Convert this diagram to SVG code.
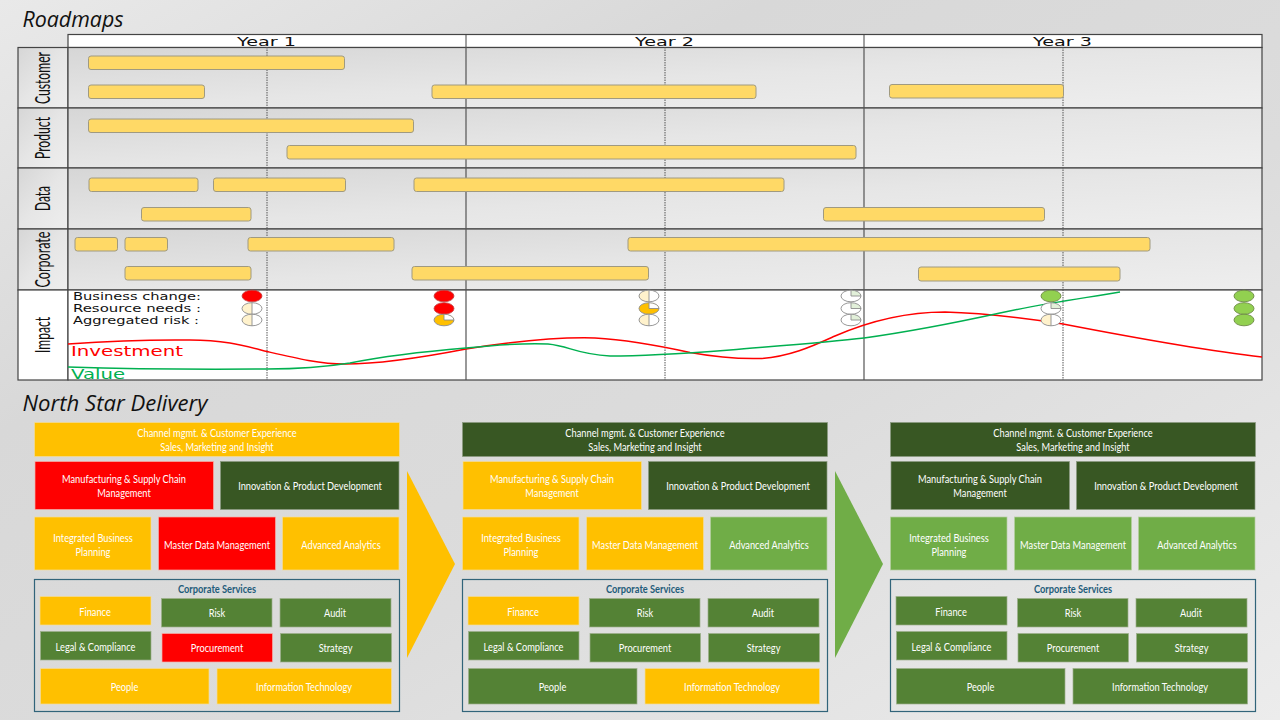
<svg xmlns="http://www.w3.org/2000/svg" width="1280" height="720" viewBox="0 0 1280 720">
<style>
.t{font-family:"Lato","Liberation Sans",sans-serif;font-size:10.6px;fill:#fff;text-anchor:middle;transform-box:fill-box;transform-origin:center;transform:translateY(.8px) scaleX(.875)}
.o{fill:#ffc000;stroke:#f2dc9a;stroke-width:.7}
.r{fill:#ff0000;stroke:#f4b0a8;stroke-width:.7}
.d{fill:#385723;stroke:#8a9a80;stroke-width:.7}
.g{fill:#548235;stroke:#9db08c;stroke-width:.7}
.l{fill:#70ad47;stroke:#b5cfa0;stroke-width:.7}
.box{fill:none;stroke:#31647a;stroke-width:1.2}
.ct{font-family:"Lato","Liberation Sans",sans-serif;font-size:10.6px;font-weight:700;fill:#1f5c7a;text-anchor:middle;transform-box:fill-box;transform-origin:center;transform:translateY(.4px) scaleX(.875)}
.bar{fill:#ffd966;stroke:#a09a80;stroke-width:1}
.lane{fill:url(#lg);stroke:#444;stroke-width:1.2}
.side{font-family:"Lato","Liberation Sans",sans-serif;font-size:21px;fill:#111;text-anchor:middle}
.yr{font-family:"DejaVu Sans",sans-serif;font-size:12.5px;fill:#111;text-anchor:middle}
.h{font-family:"Open Sans","Noto Sans",sans-serif;font-style:italic;font-size:21px;fill:#111}
.imp{font-family:"DejaVu Sans",sans-serif;font-size:9.6px;fill:#111}
.cv{font-family:"DejaVu Sans",sans-serif;font-size:14px}
.pie{fill:#fff}
.pr{fill:#ff0000;stroke:#c04040;stroke-width:.8}
.pg{fill:#92d050;stroke:#6d8a45;stroke-width:.9}
.po{fill:#ffc000}
.cream{fill:#fff2cc}
.mint{fill:#e2f0d9}
.pl{fill:none;stroke:#8c8c8c;stroke-width:.9}
.dot{stroke:#555;stroke-width:1;stroke-dasharray:1.5 1;fill:none}
</style>
<defs>
<linearGradient id="bg" x1="0" y1="0" x2="1" y2="1"><stop offset="0" stop-color="#e9e9e9"/><stop offset=".3" stop-color="#d8d8d8"/><stop offset=".6" stop-color="#dcdcdc"/><stop offset="1" stop-color="#ececec"/></linearGradient>
<linearGradient id="lg" x1="0" y1="0" x2="1" y2="1"><stop offset="0" stop-color="#d6d6d6"/><stop offset=".5" stop-color="#e6e6e6"/><stop offset="1" stop-color="#eeeeee"/></linearGradient>
<g id="half"><ellipse class="pie" rx="10" ry="5.8"/><path class="cream" d="M0-5.8A10 5.8 0 0 0 0 5.8Z"/><path class="pl" d="M0-5.8V5.8"/><ellipse class="pl" rx="10" ry="5.8"/></g>
<g id="quart"><ellipse class="pie" rx="10" ry="5.8"/><path class="mint" d="M0-5.8A10 5.8 0 0 1 10 0H0Z"/><path class="pl" d="M0-5.8V0H10"/><ellipse class="pl" rx="10" ry="5.8"/></g>
<g id="three"><ellipse class="po" rx="10" ry="5.8"/><path fill="#fff" d="M0-5.8A10 5.8 0 0 1 10 0H0Z"/><path class="pl" d="M0-5.8V0H10"/><ellipse class="pl" rx="10" ry="5.8"/></g>
</defs>
<rect id="background" width="1280" height="720" fill="url(#bg)"/>
<text id="title-roadmaps" class="h" x="22.500" y="27" textLength="101" lengthAdjust="spacingAndGlyphs">Roadmaps</text>
<text id="title-north-star" class="h" x="22.500" y="411" textLength="185" lengthAdjust="spacingAndGlyphs">North Star Delivery</text>

<g id="header">
<rect x="68" y="34.500" width="1194" height="13" fill="#fff" stroke="#444" stroke-width="1.200"/>
<path d="M466 34V47M864 34V47" stroke="#444" stroke-width="1"/>
<text class="yr" x="266.500" y="45.500" textLength="59" lengthAdjust="spacingAndGlyphs">Year 1</text>
<text class="yr" x="664.500" y="45.500" textLength="59" lengthAdjust="spacingAndGlyphs">Year 2</text>
<text class="yr" x="1062.500" y="45.500" textLength="59" lengthAdjust="spacingAndGlyphs">Year 3</text>
</g>

<g id="lane-customer">
<rect class="lane" x="18" y="47.500" width="50" height="60.500"/><rect class="lane" x="68" y="47.500" width="1194" height="60.500"/>
<text class="side" transform="translate(50 78) rotate(-90)" textLength="52" lengthAdjust="spacingAndGlyphs">Customer</text>
</g>
<g id="lane-product">
<rect class="lane" x="18" y="108" width="50" height="60"/><rect class="lane" x="68" y="108" width="1194" height="60"/>
<text class="side" transform="translate(50 138) rotate(-90)" textLength="42" lengthAdjust="spacingAndGlyphs">Product</text>
</g>
<g id="lane-data">
<rect class="lane" x="18" y="168" width="50" height="61"/><rect class="lane" x="68" y="168" width="1194" height="61"/>
<text class="side" transform="translate(50 198.500) rotate(-90)" textLength="25" lengthAdjust="spacingAndGlyphs">Data</text>
</g>
<g id="lane-corporate">
<rect class="lane" x="18" y="229" width="50" height="61"/><rect class="lane" x="68" y="229" width="1194" height="61"/>
<text class="side" transform="translate(50 259.500) rotate(-90)" textLength="56" lengthAdjust="spacingAndGlyphs">Corporate</text>
</g>
<g id="lane-impact">
<rect x="18" y="290" width="50" height="90" fill="#fff" stroke="#444" stroke-width="1.200"/><rect x="68" y="290" width="1194" height="90" fill="#fff" stroke="#444" stroke-width="1.200"/>
<text class="side" transform="translate(50 335) rotate(-90)" textLength="36" lengthAdjust="spacingAndGlyphs">Impact</text>
</g>

<g id="connectors">
<path d="M466 47V380M864 47V380" stroke="#555" stroke-width="1.200" fill="none"/>
<path class="dot" d="M267 47V380M665 47V380M1063 47V380"/>
<path id="investment-curve" fill="none" stroke="#ff0000" stroke-width="1.500" d="M68 344C110 341 150 339.500 190 340C225 340 245 346 267 351.500C295 358 320 364 345 364C385 364 430 356 466 349C510 342 560 337 595 338C630 340 665 347 690 352.500C715 357 740 359 760 358.500C790 357 815 345 835 336C865 323 900 312 945 312C985 313 1030 319 1063 324C1120 335 1200 350 1262 357"/>
<path id="value-curve" fill="none" stroke="#00b050" stroke-width="1.500" d="M68 367C130 369 210 369.500 267 369C300 369 325 367 350 363C385 356 430 351 466 348C495 345 525 343 548 344C570 346 575 354 610 356C650 356 690 353 730 350C790 345 830 342 864 338C900 333 945 325 1000 313C1040 304 1085 298 1120 292"/>
</g>

<g id="impact-labels">
<text class="imp" x="73" y="299.500" textLength="128" lengthAdjust="spacingAndGlyphs">Business change:</text>
<text class="imp" x="73" y="311.500" textLength="128" lengthAdjust="spacingAndGlyphs">Resource needs :</text>
<text class="imp" x="73" y="323.500" textLength="126" lengthAdjust="spacingAndGlyphs">Aggregated risk :</text>
<text class="cv" x="71" y="356" fill="#ff0000" textLength="112" lengthAdjust="spacingAndGlyphs">Investment</text>
<text class="cv" x="71" y="379" fill="#00b050" textLength="54" lengthAdjust="spacingAndGlyphs">Value</text>
</g>

<g id="impact-markers">
<ellipse class="pr" cx="252" cy="296" rx="10" ry="5.800"/><use href="#half" x="252" y="308.500"/><use href="#half" x="252" y="320"/>
<ellipse class="pr" cx="444" cy="296" rx="10" ry="5.800"/><ellipse class="pr" cx="444" cy="308.500" rx="10" ry="5.800"/><use href="#three" x="444" y="320"/>
<use href="#half" x="649" y="296"/><use href="#three" x="649" y="308.500"/><use href="#half" x="649" y="320"/>
<use href="#quart" x="851" y="296"/><use href="#quart" x="851" y="308.500"/><use href="#quart" x="851" y="320"/>
<ellipse class="pg" cx="1051" cy="296" rx="10" ry="5.800"/><use href="#quart" x="1051" y="308.500"/><use href="#half" x="1051" y="320"/>
<ellipse class="pg" cx="1244" cy="296" rx="10" ry="5.800"/><ellipse class="pg" cx="1244" cy="308.500" rx="10" ry="5.800"/><ellipse class="pg" cx="1244" cy="320" rx="10" ry="5.800"/>
</g>

<g id="bars">
<rect class="bar" x="88.500" y="56" width="256" height="13.500" rx="2.500"/>
<rect class="bar" x="88.500" y="85" width="116" height="13.500" rx="2.500"/>
<rect class="bar" x="432" y="85" width="324" height="13.500" rx="2.500"/>
<rect class="bar" x="889.500" y="84.500" width="174" height="13.500" rx="2.500"/>
<rect class="bar" x="88.500" y="119" width="325" height="13.500" rx="2.500"/>
<rect class="bar" x="287" y="145.500" width="569" height="13.500" rx="2.500"/>
<rect class="bar" x="89" y="178" width="109" height="13.500" rx="2.500"/>
<rect class="bar" x="213.500" y="178" width="132" height="13.500" rx="2.500"/>
<rect class="bar" x="414" y="178" width="370" height="13.500" rx="2.500"/>
<rect class="bar" x="141.500" y="207.500" width="109.500" height="13.500" rx="2.500"/>
<rect class="bar" x="823.500" y="207.500" width="221" height="13.500" rx="2.500"/>
<rect class="bar" x="75" y="237.500" width="42.500" height="13.500" rx="2.500"/>
<rect class="bar" x="125" y="237.500" width="42.500" height="13.500" rx="2.500"/>
<rect class="bar" x="248" y="237.500" width="146" height="13.500" rx="2.500"/>
<rect class="bar" x="628" y="237.500" width="522" height="13.500" rx="2.500"/>
<rect class="bar" x="125" y="266.500" width="126" height="13.500" rx="2.500"/>
<rect class="bar" x="412" y="266.500" width="236.500" height="13.500" rx="2.500"/>
<rect class="bar" x="918.500" y="267" width="201.500" height="14" rx="2.500"/>
</g>

<g id="panel-1">
<g id="p1-channel"><rect class="o" x="34.500" y="422.500" width="365" height="34"/><text class="t" x="217" y="436.500">Channel mgmt. &amp; Customer Experience</text><text class="t" x="217" y="450.500">Sales, Marketing and Insight</text></g>
<g id="p1-mfg"><rect class="r" x="35" y="461.500" width="178.500" height="48"/><text class="t" x="124" y="482.500">Manufacturing &amp; Supply Chain</text><text class="t" x="124" y="496.500">Management</text></g>
<g id="p1-innov"><rect class="d" x="220.500" y="461.500" width="178.500" height="48"/><text class="t" x="310" y="489.500">Innovation &amp; Product Development</text></g>
<g id="p1-ibp"><rect class="o" x="34.500" y="517" width="116.500" height="53"/><text class="t" x="93" y="541">Integrated Business</text><text class="t" x="93" y="555">Planning</text></g>
<g id="p1-mdm"><rect class="r" x="158.500" y="517" width="117" height="53"/><text class="t" x="217" y="548">Master Data Management</text></g>
<g id="p1-aa"><rect class="o" x="282.500" y="517" width="116.500" height="53"/><text class="t" x="341" y="548">Advanced Analytics</text></g>
<g id="p1-corp"><rect class="box" x="34.500" y="579.500" width="365" height="132"/><text class="ct" x="217" y="593">Corporate Services</text></g>
<g id="p1-fin"><rect class="o" x="40" y="596.500" width="111" height="28.500"/><text class="t" x="95" y="615">Finance</text></g>
<g id="p1-risk"><rect class="g" x="161.500" y="598.500" width="110.500" height="28.500"/><text class="t" x="217" y="616.500">Risk</text></g>
<g id="p1-audit"><rect class="g" x="280" y="598.500" width="111" height="28.500"/><text class="t" x="335" y="616.500">Audit</text></g>
<g id="p1-legal"><rect class="g" x="40.500" y="631.500" width="110.500" height="28.500"/><text class="t" x="95.500" y="650">Legal &amp; Compliance</text></g>
<g id="p1-proc"><rect class="r" x="162" y="633.500" width="110.500" height="28.500"/><text class="t" x="217" y="651.500">Procurement</text></g>
<g id="p1-strat"><rect class="g" x="280.500" y="633.500" width="111" height="28.500"/><text class="t" x="335.500" y="651.500">Strategy</text></g>
<g id="p1-people"><rect class="o" x="40.500" y="668.500" width="168.500" height="35.500"/><text class="t" x="124.500" y="690.500">People</text></g>
<g id="p1-it"><rect class="o" x="217" y="668.500" width="174.500" height="35.500"/><text class="t" x="304" y="690.500">Information Technology</text></g>
</g>
<polygon id="arrow-1" points="407,471 455,564 407,658" fill="#ffc000"/>

<g id="panel-2">
<g id="p2-channel"><rect class="d" x="462.500" y="422.500" width="365" height="34"/><text class="t" x="645" y="436.500">Channel mgmt. &amp; Customer Experience</text><text class="t" x="645" y="450.500">Sales, Marketing and Insight</text></g>
<g id="p2-mfg"><rect class="o" x="463" y="461.500" width="178.500" height="48"/><text class="t" x="552" y="482.500">Manufacturing &amp; Supply Chain</text><text class="t" x="552" y="496.500">Management</text></g>
<g id="p2-innov"><rect class="d" x="648.500" y="461.500" width="178.500" height="48"/><text class="t" x="738" y="489.500">Innovation &amp; Product Development</text></g>
<g id="p2-ibp"><rect class="o" x="462.500" y="517" width="116.500" height="53"/><text class="t" x="521" y="541">Integrated Business</text><text class="t" x="521" y="555">Planning</text></g>
<g id="p2-mdm"><rect class="o" x="586.500" y="517" width="117" height="53"/><text class="t" x="645" y="548">Master Data Management</text></g>
<g id="p2-aa"><rect class="l" x="710.500" y="517" width="116.500" height="53"/><text class="t" x="769" y="548">Advanced Analytics</text></g>
<g id="p2-corp"><rect class="box" x="462.500" y="579.500" width="365" height="132"/><text class="ct" x="645" y="593">Corporate Services</text></g>
<g id="p2-fin"><rect class="o" x="468" y="596.500" width="111" height="28.500"/><text class="t" x="523" y="615">Finance</text></g>
<g id="p2-risk"><rect class="g" x="589.500" y="598.500" width="110.500" height="28.500"/><text class="t" x="645" y="616.500">Risk</text></g>
<g id="p2-audit"><rect class="g" x="708" y="598.500" width="111" height="28.500"/><text class="t" x="763" y="616.500">Audit</text></g>
<g id="p2-legal"><rect class="g" x="468.500" y="631.500" width="110.500" height="28.500"/><text class="t" x="523.500" y="650">Legal &amp; Compliance</text></g>
<g id="p2-proc"><rect class="g" x="590" y="633.500" width="110.500" height="28.500"/><text class="t" x="645" y="651.500">Procurement</text></g>
<g id="p2-strat"><rect class="g" x="708.500" y="633.500" width="111" height="28.500"/><text class="t" x="763.500" y="651.500">Strategy</text></g>
<g id="p2-people"><rect class="g" x="468.500" y="668.500" width="168.500" height="35.500"/><text class="t" x="552.500" y="690.500">People</text></g>
<g id="p2-it"><rect class="o" x="645" y="668.500" width="174.500" height="35.500"/><text class="t" x="732" y="690.500">Information Technology</text></g>
</g>
<polygon id="arrow-2" points="835,471 883,564 835,658" fill="#70ad47"/>

<g id="panel-3">
<g id="p3-channel"><rect class="d" x="890.500" y="422.500" width="365" height="34"/><text class="t" x="1073" y="436.500">Channel mgmt. &amp; Customer Experience</text><text class="t" x="1073" y="450.500">Sales, Marketing and Insight</text></g>
<g id="p3-mfg"><rect class="d" x="891" y="461.500" width="178.500" height="48"/><text class="t" x="980" y="482.500">Manufacturing &amp; Supply Chain</text><text class="t" x="980" y="496.500">Management</text></g>
<g id="p3-innov"><rect class="d" x="1076.500" y="461.500" width="178.500" height="48"/><text class="t" x="1166" y="489.500">Innovation &amp; Product Development</text></g>
<g id="p3-ibp"><rect class="l" x="890.500" y="517" width="116.500" height="53"/><text class="t" x="949" y="541">Integrated Business</text><text class="t" x="949" y="555">Planning</text></g>
<g id="p3-mdm"><rect class="l" x="1014.500" y="517" width="117" height="53"/><text class="t" x="1073" y="548">Master Data Management</text></g>
<g id="p3-aa"><rect class="l" x="1138.500" y="517" width="116.500" height="53"/><text class="t" x="1197" y="548">Advanced Analytics</text></g>
<g id="p3-corp"><rect class="box" x="890.500" y="579.500" width="365" height="132"/><text class="ct" x="1073" y="593">Corporate Services</text></g>
<g id="p3-fin"><rect class="g" x="896" y="596.500" width="111" height="28.500"/><text class="t" x="951" y="615">Finance</text></g>
<g id="p3-risk"><rect class="g" x="1017.500" y="598.500" width="110.500" height="28.500"/><text class="t" x="1073" y="616.500">Risk</text></g>
<g id="p3-audit"><rect class="g" x="1136" y="598.500" width="111" height="28.500"/><text class="t" x="1191" y="616.500">Audit</text></g>
<g id="p3-legal"><rect class="g" x="896.500" y="631.500" width="110.500" height="28.500"/><text class="t" x="951.500" y="650">Legal &amp; Compliance</text></g>
<g id="p3-proc"><rect class="g" x="1018" y="633.500" width="110.500" height="28.500"/><text class="t" x="1073" y="651.500">Procurement</text></g>
<g id="p3-strat"><rect class="g" x="1136.500" y="633.500" width="111" height="28.500"/><text class="t" x="1191.500" y="651.500">Strategy</text></g>
<g id="p3-people"><rect class="g" x="896.500" y="668.500" width="168.500" height="35.500"/><text class="t" x="980.500" y="690.500">People</text></g>
<g id="p3-it"><rect class="g" x="1073" y="668.500" width="174.500" height="35.500"/><text class="t" x="1160" y="690.500">Information Technology</text></g>
</g>
</svg>
